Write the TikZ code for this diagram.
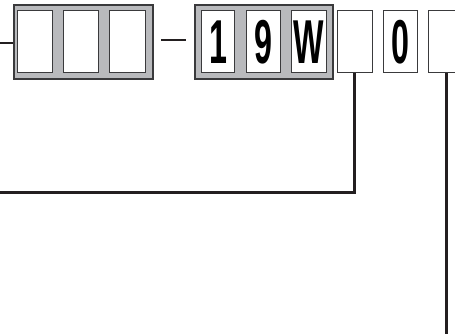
\documentclass[tikz,border=0pt]{standalone}
\usepackage{fontspec}
\setmainfont{Liberation Sans}
\definecolor{ink}{HTML}{231F20}
\definecolor{frame}{HTML}{3A3A3C}
\definecolor{panel}{HTML}{B9BABD}
\tikzset{
  x=1pt, y=-1pt,
  panelbox/.style={draw=frame, fill=panel, line width=1.6pt, inner sep=0pt, anchor=north west},
  cell/.style={draw=frame, fill=white, line width=1.4pt, inner sep=0pt, anchor=north west,
    minimum height=62pt, font=\fontsize{62}{62}\selectfont\bfseries},
  leader/.style={draw=ink, line width=2.6pt},
}
\newcommand{\dig}[1]{\scalebox{0.52}[1]{#1}}
\begin{document}
\begin{tikzpicture}
\useasboundingbox (0,0) rectangle (455,334);
\clip (0,0) rectangle (455,334);
% grey panels
\node[panelbox, minimum width=139pt, minimum height=74pt] (pa) at (13,4) {};
\node[panelbox, minimum width=138pt, minimum height=74pt] (pb) at (194,4) {};
% cells in first panel
\node[cell, minimum width=35pt] (a1) at (17,10) {};
\node[cell, minimum width=35pt] (a2) at (63,10) {};
\node[cell, minimum width=36pt] (a3) at (109,10) {};
% cells in second panel
\node[cell, minimum width=33pt] (b1) at (201,10) {\dig{1}};
\node[cell, minimum width=34pt] (b2) at (246,10) {\dig{9}};
\node[cell, minimum width=35pt] (b3) at (291,10) {\dig{W}};
% free cells
\node[cell, minimum width=35pt] (c1) at (337,10) {};
\node[cell, minimum width=34pt] (c2) at (383,10) {\dig{0}};
\node[cell, minimum width=34pt] (c3) at (428,10) {};
% dash between panels
\coordinate (d1) at (161,40);
\coordinate (d2) at (186,40);
\draw[leader] (d1) -- (d2);
% left lead into first panel
\coordinate (l0) at (0,43);
\draw[leader] (l0) -- (pa.west |- l0);
% leader from c1
\coordinate (e1) at (0,192.5);
\draw[leader] (c1.south -| 354.5,0) |- (e1);
% leader from c3
\coordinate (e2) at (446.5,334);
\draw[leader] (c3.south -| e2) -- (e2);
\end{tikzpicture}
\end{document}
